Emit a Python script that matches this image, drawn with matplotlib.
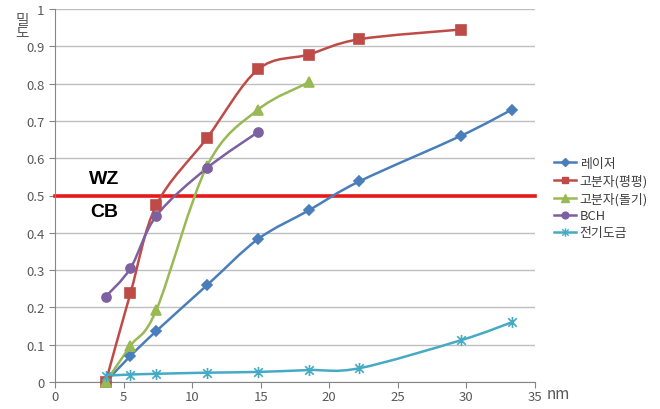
import numpy as np
import matplotlib
matplotlib.use('Agg')
import matplotlib.pyplot as plt
from matplotlib.path import Path
from matplotlib.patches import PathPatch
from matplotlib.lines import Line2D

plt.rcParams['font.family'] = ['Noto Sans CJK KR', 'DejaVu Sans']

# ---------------------------
# data
# ---------------------------
x_laser = [3.7, 5.5, 7.4, 11.1, 14.8, 18.5, 22.2, 29.6, 33.3]
y_laser = [0.0, 0.07, 0.137, 0.26, 0.383, 0.46, 0.538, 0.66, 0.73]

x_flat = [3.7, 5.5, 7.4, 11.1, 14.8, 18.5, 22.2, 29.6]
y_flat = [0.0, 0.238, 0.475, 0.655, 0.838, 0.878, 0.919, 0.945]

x_bump = [3.7, 5.5, 7.4, 11.1, 14.8, 18.5]
y_bump = [0.0, 0.097, 0.194, 0.58, 0.73, 0.803]

x_bch = [3.7, 5.5, 7.4, 11.1, 14.8]
y_bch = [0.229, 0.305, 0.446, 0.574, 0.67]

x_plate = [3.7, 5.5, 7.4, 11.1, 14.8, 18.5, 22.2, 29.6, 33.3]
y_plate = [0.017, 0.02, 0.022, 0.025, 0.027, 0.032, 0.037, 0.112, 0.16]

labels = ['레이저', '고분자(평평)', '고분자(돌기)', 'BCH', '전기도금']
colors = ['#4A7EBB', '#BE4B48', '#98B954', '#7D60A0', '#46AAC5']

# excel-style star marker: X plus a vertical bar
star = Path([(-1, -1), (1, 1), (-1, 1), (1, -1), (0, -1.3), (0, 1.3)],
            [Path.MOVETO, Path.LINETO, Path.MOVETO, Path.LINETO,
             Path.MOVETO, Path.LINETO])
markers = ['D', 's', '^', 'o', star]
msizes = [5.5, 6.5, 7, 6.5, 8]


def smooth_path(xs, ys):
    # Catmull-Rom -> cubic bezier, like Excel's smoothed line
    p = np.column_stack([xs, ys])
    verts = [p[0]]
    codes = [Path.MOVETO]
    n = len(p)
    for i in range(n - 1):
        p0 = p[i - 1] if i > 0 else p[i]
        p3 = p[i + 2] if i + 2 < n else p[i + 1]
        c1 = p[i] + (p[i + 1] - p0) / 6.0
        c2 = p[i + 1] - (p3 - p[i]) / 6.0
        verts += [c1, c2, p[i + 1]]
        codes += [Path.CURVE4] * 3
    return Path(verts, codes)


fig = plt.figure(figsize=(6.6, 4.1), dpi=100)
ax = fig.add_axes([55 / 660, 27 / 410, 480 / 660, 373 / 410])

ax.set_xlim(0, 35)
ax.set_ylim(0, 1)

series = [(x_laser, y_laser), (x_flat, y_flat), (x_bump, y_bump),
          (x_bch, y_bch), (x_plate, y_plate)]

for (xs, ys), c, m, ms in zip(series, colors, markers, msizes):
    ax.add_patch(PathPatch(smooth_path(xs, ys), facecolor='none',
                           edgecolor=c, lw=1.8, zorder=3))
    ax.plot(xs, ys, ls='none', marker=m, ms=ms, color=c,
            mec=c, mew=1.2, zorder=4, clip_on=False)

# phase boundary
ax.axhline(0.5, color='#E8191B', lw=2.6, zorder=2, clip_on=False)
ax.text(3.6, 0.545, 'WZ', ha='center', va='center', fontsize=14,
        fontweight='bold', family='Liberation Sans')
ax.text(3.6, 0.456, 'CB', ha='center', va='center', fontsize=14,
        fontweight='bold', family='Liberation Sans')

# axes style
ax.set_xticks(np.arange(0, 36, 5))
ax.set_yticks(np.round(np.arange(0, 1.01, 0.1), 1))
ax.set_yticklabels(['0'] + [f'{v:.1f}' for v in np.arange(0.1, 1.0, 0.1)] + ['1'])
ax.grid(axis='y', color='#BFBFBF', lw=1)
ax.set_axisbelow(True)
for s in ['top', 'right']:
    ax.spines[s].set_visible(False)
for s in ['left', 'bottom']:
    ax.spines[s].set_color('#868686')
ax.tick_params(colors='#868686', labelcolor='#595959', labelsize=9.5,
               length=4, direction='out')
ax.tick_params(axis='x', pad=2)

ax.text(1.025, -0.03, 'nm', transform=ax.transAxes, fontsize=11,
        color='#595959', ha='left', va='center')
fig.text(22 / 660, 396 / 410, '밀\n도', ha='center', va='top', fontsize=10.5,
         color='#595959', linespacing=0.95)

handles = [Line2D([], [], color=c, marker=m, ms=ms * 0.75, lw=1.8, mew=1.0)
           for c, m, ms in zip(colors, markers, msizes)]
fig.legend(handles, labels, loc='upper left', bbox_to_anchor=(550 / 660, 256 / 410),
           frameon=False, fontsize=9.3, handlelength=1.7, handletextpad=0.3,
           labelspacing=0.32, borderaxespad=0, borderpad=0.3,
           labelcolor='#404040')

fig.savefig('out.png', dpi=100)
